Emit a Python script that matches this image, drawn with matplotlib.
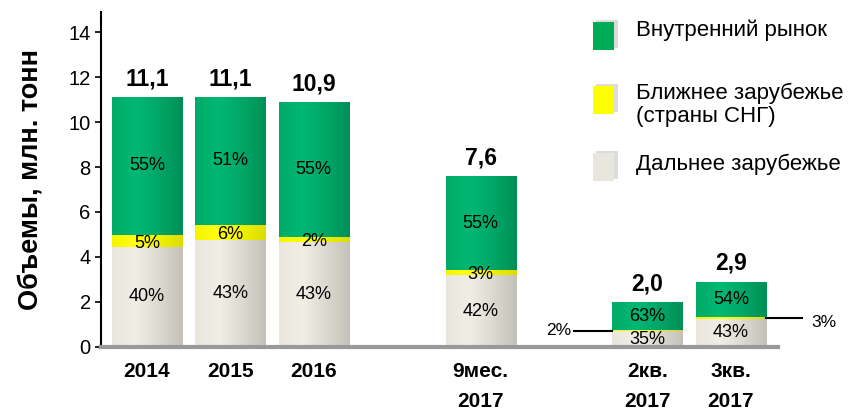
import numpy as np
import matplotlib
matplotlib.use("Agg")
import matplotlib.pyplot as plt
from matplotlib.colors import LinearSegmentedColormap
from matplotlib.patches import Rectangle

plt.rcParams["font.family"] = ["Liberation Sans", "DejaVu Sans"]

# --- данные ---
categories = ["2014", "2015", "2016", "9мес.\n2017", "2кв.\n2017", "3кв.\n2017"]
positions = [0, 1, 2, 4, 6, 7]
totals = [11.1, 11.1, 10.9, 7.6, 2.0, 2.9]
total_labels = ["11,1", "11,1", "10,9", "7,6", "2,0", "2,9"]
share_far = [40, 43, 43, 42, 35, 43]      # Дальнее зарубежье
share_near = [5, 6, 2, 3, 2, 3]           # Ближнее зарубежье (СНГ)
share_domestic = [55, 51, 55, 55, 63, 54]  # Внутренний рынок

series_names = ["Дальнее зарубежье", "Ближнее зарубежье\n(страны СНГ)", "Внутренний рынок"]

far = np.array(totals) * np.array(share_far) / 100
near = np.array(totals) * np.array(share_near) / 100
domestic = np.array(totals) * np.array(share_domestic) / 100

cmaps = {
    "far": LinearSegmentedColormap.from_list("far", ["#e9e7dd", "#f0eee5", "#dcdad0", "#c4c2b8"]),
    "near": LinearSegmentedColormap.from_list("near", ["#f5f500", "#ffff10", "#f0f000", "#dcdc00"]),
    "dom": LinearSegmentedColormap.from_list("dom", ["#00ab68", "#00b873", "#00a766", "#008f57"]),
}

fig = plt.figure(figsize=(8.64, 4.11), dpi=100)
ax = fig.add_axes([0.117, 0.156, 0.783, 0.815])

width = 0.84
grad = np.linspace(0, 1, 64).reshape(1, -1)


def draw_segment(x, bottom, height, cmap):
    rect = Rectangle((x - width / 2, bottom), width, height, facecolor="none",
                     edgecolor="none")
    ax.add_patch(rect)
    im = ax.imshow(grad, cmap=cmap, aspect="auto", interpolation="bicubic",
                   extent=(x - width / 2, x + width / 2, bottom, bottom + height),
                   zorder=2)
    im.set_clip_path(rect)


for i, x in enumerate(positions):
    draw_segment(x, 0, far[i], cmaps["far"])
    draw_segment(x, far[i], near[i], cmaps["near"])
    draw_segment(x, far[i] + near[i], domestic[i], cmaps["dom"])

    # итог над столбцом
    ax.text(x, totals[i] + 0.3, total_labels[i], ha="center", va="bottom",
            fontsize=16.5, fontweight="bold", zorder=5)

    # проценты внутри
    ax.text(x, far[i] + near[i] + domestic[i] / 2, f"{share_domestic[i]}%",
            ha="center", va="center", fontsize=13, zorder=5)
    ax.text(x, far[i] / 2, f"{share_far[i]}%", ha="center", va="center",
            fontsize=13, zorder=5)
    if totals[i] > 5:
        ax.text(x, far[i] + near[i] / 2 - 0.1, f"{share_near[i]}%",
                ha="center", va="center", fontsize=13, zorder=5)

# выноски для маленьких столбцов
i = 4
y = far[i] + near[i] / 2
ax.plot([positions[i] - 0.88, positions[i] - width / 2], [y, y], color="black",
        lw=1.5, clip_on=False, zorder=4)
ax.text(positions[i] - 0.91, y + 0.03, f"{share_near[i]}%", ha="right",
        va="center", fontsize=12.5)
i = 5
y = far[i] + near[i] / 2
ax.plot([positions[i] + width / 2, positions[i] + 0.85], [y, y], color="black",
        lw=1.5, clip_on=False, zorder=4)
ax.text(positions[i] + 0.97, y - 0.2, f"{share_near[i]}%", ha="left",
        va="center", fontsize=12.5)

ax.set_xlim(-0.55, 7.56)
ax.set_ylim(0, 14.9)
ax.set_yticks(range(0, 15, 2))
ax.tick_params(axis="y", labelsize=14.5, length=4, width=1.2)
ax.set_xticks(positions)
ax.set_xticklabels(categories, fontsize=15, fontweight="bold", linespacing=1.75)
ax.tick_params(axis="x", length=0, pad=11)

ax.spines["top"].set_visible(False)
ax.spines["right"].set_visible(False)
ax.spines["left"].set_linewidth(1.5)
ax.spines["bottom"].set_color("#999999")
ax.spines["bottom"].set_linewidth(3)
ax.set_ylabel("Объемы, млн. тонн", fontsize=19.5, fontweight="bold", labelpad=18)

# легенда
legend_items = [
    (series_names[2], "#00ab55", 0.914, 0.927),
    (series_names[1], "#ffff00", 0.758, 0.745),
    (series_names[0], "#e9e7dd", 0.594, 0.599),
]
for text, face, yc, yt in legend_items:
    fig.patches.append(Rectangle((0.690, yc - 0.030), 0.025, 0.068,
                                 transform=fig.transFigure, facecolor="#bbbbbb",
                                 edgecolor="none", alpha=0.5, zorder=1))
    fig.patches.append(Rectangle((0.686, yc - 0.035), 0.025, 0.068,
                                 transform=fig.transFigure, facecolor=face,
                                 edgecolor="none", zorder=2))
    fig.text(0.736, yt, text, fontsize=16, va="center", ha="left",
             linespacing=1.15)

fig.savefig("out.png", dpi=100)
